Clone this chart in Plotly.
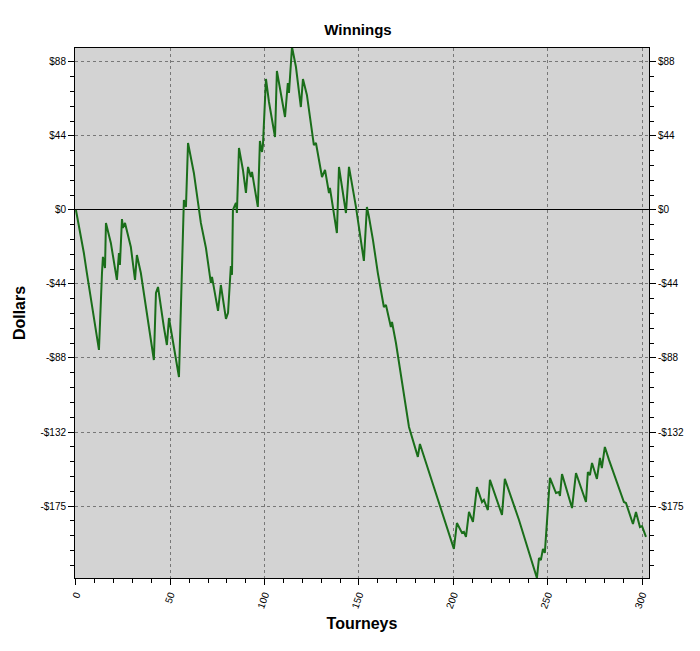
import plotly.graph_objects as go

# tourney number vs cumulative winnings
tourneys = [0, 2.6, 4.2, 5.8, 8.5, 12.2, 13.8, 14.3, 15.4, 15.9, 18.5, 21.7, 22.8, 23.3, 24.4, 24.9, 26.0,
            29.1, 31.3, 32.3, 34.4, 38.7, 41.3, 42.4, 43.5, 46.6, 48.2, 49.3, 50.9, 54.6, 57.2, 58.3, 59.4,
            62.5, 66.2, 68.9, 71.5, 72.1, 75.3, 76.8, 79.5, 80.6, 82.1, 82.7, 83.2, 84.8, 85.3, 86.4, 88.5,
            90.1, 91.2, 92.7, 93.3, 96.4, 97.5, 98.6, 99.1, 100.7, 102.3, 105.5, 106.5, 110.8, 112.3, 112.9,
            114.5, 116.6, 119.2, 120.3, 122.4, 126.1, 127.2, 130.4, 132.0, 134.1, 134.6, 138.3, 139.4, 143.1,
            144.7, 148.4, 152.6, 154.2, 155.3, 157.4, 160.0, 163.2, 164.3, 166.9, 167.5, 169.6, 176.5, 181.2,
            182.3, 192.4, 200.3, 201.9, 204.6, 205.6, 206.7, 208.3, 210.4, 212.5, 215.2, 216.2, 218.3, 219.4,
            225.8, 227.3, 234.8, 244.3, 245.4, 246.4, 247.5, 248.5, 251.2, 254.4, 256.0, 256.5, 257.6, 262.9,
            265.0, 270.3, 271.3, 272.4, 273.5, 276.1, 277.7, 278.7, 280.3, 282.5, 290.4, 291.5, 295.2, 296.8,
            298.9, 300.0, 302.1]
dollars = [0, -14.9, -25.6, -37.5, -57.7, -83.2, -37.5, -27.9, -34.5, -7.7, -19.6, -41.6, -25.6, -32.7, -5.4,
           -10.7, -7.7, -22.0, -41.6, -26.8, -37.5, -71.3, -89.2, -49.3, -45.8, -69.6, -80.3, -64.2, -75.5,
           -99.3, 5.9, 1.8, 39.8, 22.0, -7.7, -22.6, -43.4, -39.8, -60.0, -44.6, -64.8, -61.2, -33.3, -38.6,
           0, 4.2, -1.8, 36.9, 23.8, 10.1, 25.6, 19.6, 22.6, 1.8, 41.0, 34.5, 38.6, 77.9, 64.2, 43.4, 82.6,
           55.3, 75.5, 69.6, 96.9, 85.0, 61.2, 77.9, 68.4, 38.6, 39.8, 19.6, 23.8, 10.1, 13.1, -13.7, 25.6,
           -1.8, 25.6, 1.8, -30.3, 1.8, -4.2, -17.8, -37.5, -57.7, -56.5, -69.6, -66.6, -79.1, -129.0, -146.8,
           -139.1, -173.6, -201.5, -186.1, -192.0, -191.4, -194.4, -179.5, -185.5, -164.7, -173.6, -172.4,
           -178.4, -160.5, -181.3, -159.9, -184.3, -218.8, -206.9, -208.1, -201.5, -203.9, -159.3, -168.3,
           -167.7, -170.0, -157.0, -177.2, -156.4, -173.6, -155.8, -157.6, -150.4, -159.9, -147.4, -153.4,
           -140.9, -148.6, -173.6, -174.2, -186.7, -179.5, -188.5, -187.9, -194.4]

y_ticks = [88, 44, 0, -44, -88, -132, -176]
y_labels = ['$88', '$44', '$0', '-$44', '-$88', '-$132', '-$175']
x_ticks = [0, 50, 100, 150, 200, 250, 300]

y_range = [-218.8, 96.3]
font = dict(family='Liberation Sans, Arial', size=10, color='black')

fig = go.Figure()
fig.add_trace(go.Scatter(x=tourneys, y=dollars, mode='lines',
                         line=dict(color='#1a6e1a', width=2), showlegend=False))
# invisible trace so the right-hand axis shows
fig.add_trace(go.Scatter(x=[tourneys[0]], y=[dollars[0]], yaxis='y2', mode='markers',
                         marker=dict(opacity=0), showlegend=False, hoverinfo='skip'))

yaxis_common = dict(range=y_range, tickmode='array', tickvals=y_ticks, ticktext=y_labels,
                    ticks='outside', ticklen=6, tickcolor='black', showline=True, linecolor='black',
                    tickfont=font, minor=dict(dtick=8.8, tick0=0, ticks='outside', ticklen=4,
                                              tickcolor='black', showgrid=False))

fig.update_layout(
    width=700, height=651,
    paper_bgcolor='white', plot_bgcolor='#d3d3d3',
    margin=dict(l=67, r=59, t=40, b=81),
    title=dict(text='<b>Winnings</b>', x=0.5, xanchor='center', y=0.975,
               font=dict(family='Liberation Sans, Arial', size=15, color='black')),
    xaxis=dict(range=[-0.5, 303.7], tickvals=x_ticks, tickangle=-70, ticks='outside', ticklen=6,
               tickcolor='black', showline=True, linecolor='black', mirror=True, tickfont=font,
               showgrid=True, gridcolor='#777777', griddash='dot', gridwidth=1, zeroline=False,
               minor=dict(dtick=10, ticks='outside', ticklen=4, tickcolor='black', showgrid=False),
               title=dict(text='<b>Tourneys</b>', standoff=8,
                          font=dict(family='Liberation Sans, Arial', size=16, color='black'))),
    yaxis=dict(**yaxis_common, showgrid=True, gridcolor='#777777', griddash='dot', gridwidth=1,
               zeroline=True, zerolinecolor='black', zerolinewidth=1,
               title=dict(text='<b>Dollars</b>', standoff=10,
                          font=dict(family='Liberation Sans, Arial', size=16, color='black'))),
    yaxis2=dict(**yaxis_common, overlaying='y', side='right', showgrid=False, zeroline=False),
)

fig.write_html('out.html')
